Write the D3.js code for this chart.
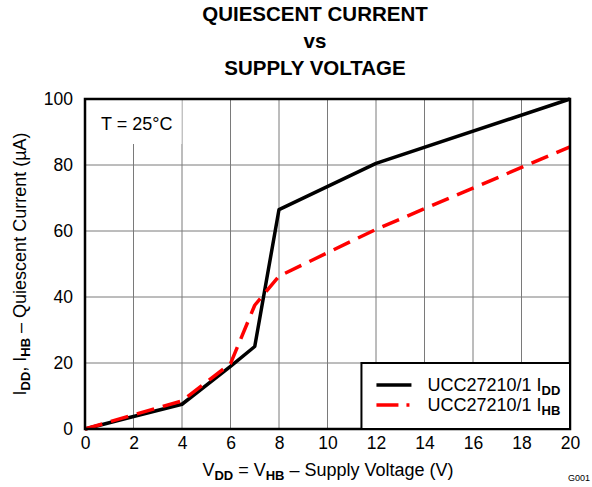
<!DOCTYPE html>
<html>
<head>
<meta charset="utf-8">
<script src="https://cdn.jsdelivr.net/npm/d3@7"></script>
<style>
  body { margin: 0; background: #fff; }
  text { font-family: "Liberation Sans", Arial, sans-serif; fill: #000; }
</style>
</head>
<body>
<svg id="chart"></svg>
<script>
// supply voltage (V)
const voltage = [0, 2, 4, 6, 7, 8, 12, 20];
// quiescent current (uA)
const iddValues = [0, 3.8, 7.5, 19, 25, 66.5, 80.5, 100];
const ihbValues = [0, 4.3, 8.5, 19.8, 37.5, 46.3, 60.5, 85.5];
const xTicks = [0, 2, 4, 6, 8, 10, 12, 14, 16, 18, 20];
const yTicks = [0, 20, 40, 60, 80, 100];

const width = 592, height = 487;
const margin = {top: 99, right: 22, bottom: 58, left: 85};
const w = width - margin.left - margin.right;
const h = height - margin.top - margin.bottom;

const svg = d3.select('#chart').attr('width', width).attr('height', height);

// title
const title = ['QUIESCENT CURRENT', 'vs', 'SUPPLY VOLTAGE'];
svg.selectAll('.title').data(title).join('text')
    .attr('class', 'title')
    .attr('x', 315)
    .attr('y', (d, i) => 21 + i * 27)
    .attr('text-anchor', 'middle')
    .style('font-size', '20.5px')
    .style('font-weight', 'bold')
    .text(d => d);

const chart = svg.append('g').attr('transform', `translate(${margin.left},${margin.top})`);

const xScale = d3.scaleLinear().domain([0, 20]).range([0, w]);
const yScale = d3.scaleLinear().domain([0, 100]).range([h, 0]);

// grid
chart.append('g').selectAll('line').data(xTicks).join('line')
    .attr('x1', d => xScale(d)).attr('x2', d => xScale(d))
    .attr('y1', 0).attr('y2', h)
    .attr('stroke', '#7a7a7a').attr('stroke-width', 1);
chart.append('g').selectAll('line').data(yTicks).join('line')
    .attr('y1', d => yScale(d)).attr('y2', d => yScale(d))
    .attr('x1', 0).attr('x2', w)
    .attr('stroke', '#7a7a7a').attr('stroke-width', 1);

// temperature note box
chart.append('rect')
    .attr('x', 0).attr('y', 0)
    .attr('width', xScale(4)).attr('height', 45)
    .attr('fill', '#fff');
chart.append('line')
    .attr('x1', xScale(4)).attr('x2', xScale(4))
    .attr('y1', 0).attr('y2', 45)
    .attr('stroke', '#c8c8c8').attr('stroke-width', 1);
chart.append('text')
    .attr('x', 16).attr('y', 31)
    .style('font-size', '18px')
    .text('T = 25°C');

// axes
const xAxis = d3.axisBottom(xScale).tickValues(xTicks).tickSize(0).tickPadding(8);
const yAxis = d3.axisLeft(yScale).tickValues(yTicks).tickSize(0).tickPadding(12);
const xAxisG = chart.append('g').attr('transform', `translate(0,${h})`).call(xAxis);
const yAxisG = chart.append('g').call(yAxis);
[xAxisG, yAxisG].forEach(g => {
  g.select('.domain').remove();
  g.selectAll('text').style('font-size', '17.5px').style('font-family', '"Liberation Sans", Arial, sans-serif');
});

// lines
const line = d3.line().x(d => xScale(d[0])).y(d => yScale(d[1]));
const idd = voltage.map((v, i) => [v, iddValues[i]]);
const ihb = voltage.map((v, i) => [v, ihbValues[i]]);

chart.append('path').datum(idd)
    .attr('d', line)
    .attr('fill', 'none').attr('stroke', '#000').attr('stroke-width', 3.5)
    .attr('stroke-linejoin', 'round');
chart.append('path').datum(ihb)
    .attr('d', line)
    .attr('fill', 'none').attr('stroke', '#ff0000').attr('stroke-width', 3.5)
    .attr('stroke-dasharray', '18,9')
    .attr('stroke-linejoin', 'round');

// frame
chart.append('rect')
    .attr('width', w).attr('height', h)
    .attr('fill', 'none').attr('stroke', '#000').attr('stroke-width', 2.5);

// legend
const legend = chart.append('g').attr('transform', `translate(${xScale(11.4)},${yScale(20)})`);
legend.append('rect')
    .attr('width', w - xScale(11.4)).attr('height', h - yScale(20))
    .attr('fill', '#fff').attr('stroke', '#000').attr('stroke-width', 2);
const legendItems = [
  {name: 'UCC27210/1 I', sub: 'DD', color: '#000', dash: null},
  {name: 'UCC27210/1 I', sub: 'HB', color: '#ff0000', dash: '22,8,3,20'}
];
legendItems.forEach((d, i) => {
  const y = 22 + i * 20;
  legend.append('line')
      .attr('x1', 15).attr('x2', 50).attr('y1', y).attr('y2', y)
      .attr('stroke', d.color).attr('stroke-width', 3.5)
      .attr('stroke-dasharray', d.dash);
  const t = legend.append('text')
      .attr('x', 66).attr('y', y + 6)
      .style('font-size', '18px');
  t.append('tspan').text(d.name);
  t.append('tspan').attr('dy', 4).style('font-size', '13px').style('font-weight', 'bold').text(d.sub);
});

// axis titles
const xt = svg.append('text')
    .attr('x', 328).attr('y', 476)
    .attr('text-anchor', 'middle')
    .style('font-size', '18px');
xt.append('tspan').text('V');
xt.append('tspan').attr('dy', 4).style('font-size', '13px').style('font-weight', 'bold').text('DD');
xt.append('tspan').attr('dy', -4).text(' = V');
xt.append('tspan').attr('dy', 4).style('font-size', '13px').style('font-weight', 'bold').text('HB');
xt.append('tspan').attr('dy', -4).text(' – Supply Voltage (V)');

const yt = svg.append('text')
    .attr('transform', `translate(26,${margin.top + h / 2}) rotate(-90)`)
    .attr('text-anchor', 'middle')
    .style('font-size', '18px');
yt.append('tspan').text('I');
yt.append('tspan').attr('dy', 4).style('font-size', '13px').style('font-weight', 'bold').text('DD');
yt.append('tspan').attr('dy', -4).text(', I');
yt.append('tspan').attr('dy', 4).style('font-size', '13px').style('font-weight', 'bold').text('HB');
yt.append('tspan').attr('dy', -4).text(' – Quiescent Current (µA)');

svg.append('text')
    .attr('x', 590).attr('y', 481)
    .attr('text-anchor', 'end')
    .style('font-size', '9px')
    .text('G001');
</script>
</body>
</html>
